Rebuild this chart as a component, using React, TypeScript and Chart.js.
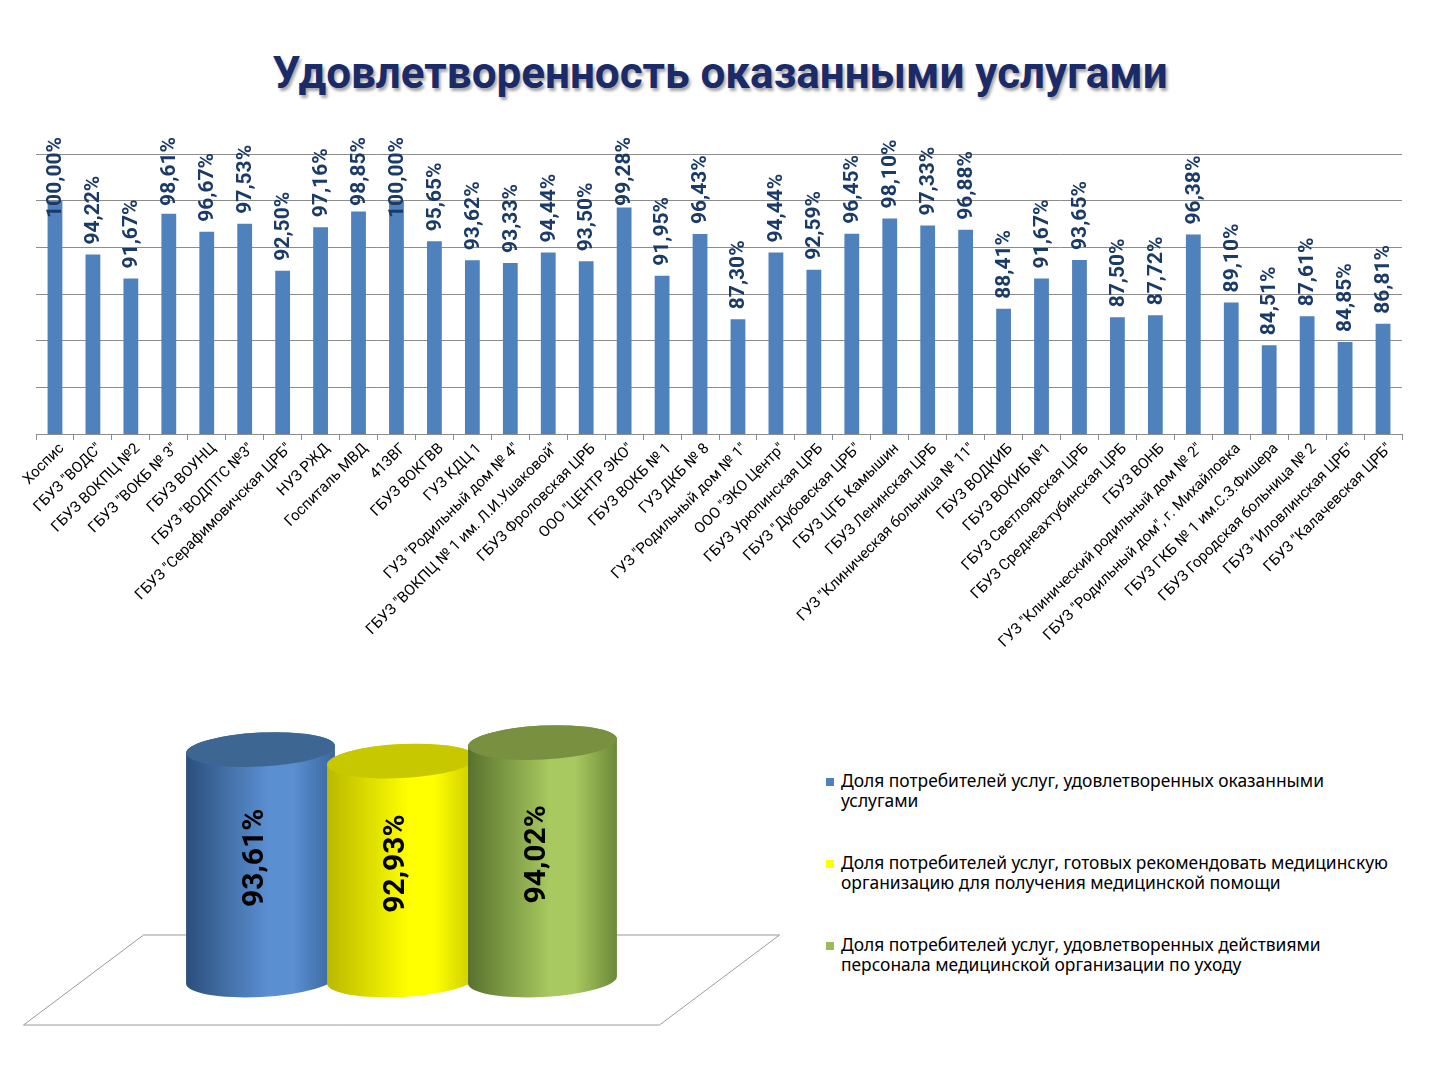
import React, { useEffect, useRef } from 'react';
import { Chart, Plugin, registerables } from 'chart.js';

Chart.register(...registerables);

// --- data ---
const organizations = [
  'Хоспис',
  'ГБУЗ "ВОДС"',
  'ГБУЗ ВОКПЦ №2',
  'ГБУЗ "ВОКБ № 3"',
  'ГБУЗ ВОУНЦ',
  'ГБУЗ "ВОДПТС №3"',
  'ГБУЗ "Серафимовичская ЦРБ"',
  'НУЗ РЖД',
  'Госпиталь МВД',
  '413ВГ',
  'ГБУЗ ВОКГВВ',
  'ГУЗ КДЦ 1',
  'ГУЗ "Родильный дом № 4"',
  'ГБУЗ "ВОКПЦ № 1 им. Л.И.Ушаковой"',
  'ГБУЗ Фроловская ЦРБ',
  'ООО "ЦЕНТР ЭКО"',
  'ГБУЗ ВОКБ № 1',
  'ГУЗ ДКБ № 8',
  'ГУЗ "Родильный дом № 1"',
  'ООО "ЭКО Центр"',
  'ГБУЗ Урюпинская ЦРБ',
  'ГБУЗ "Дубовская ЦРБ"',
  'ГБУЗ ЦГБ Камышин',
  'ГБУЗ Ленинская ЦРБ',
  'ГУЗ "Клиническая больница № 11"',
  'ГБУЗ ВОДКИБ',
  'ГБУЗ ВОКИБ №1',
  'ГБУЗ Светлоярская ЦРБ',
  'ГБУЗ Среднеахтубинская ЦРБ',
  'ГБУЗ ВОНБ',
  'ГУЗ "Клинический родильный дом № 2"',
  'ГБУЗ "Родильный дом", г. Михайловка',
  'ГБУЗ ГКБ № 1 им.С.З.Фишера',
  'ГБУЗ Городская больница № 2',
  'ГБУЗ "Иловлинская ЦРБ"',
  'ГБУЗ "Калачевская ЦРБ"',
];

const satisfaction = [
  100.0, 94.22, 91.67, 98.61, 96.67, 97.53, 92.5, 97.16, 98.85, 100.0, 95.65, 93.62,
  93.33, 94.44, 93.5, 99.28, 91.95, 96.43, 87.3, 94.44, 92.59, 96.45, 98.1, 97.33,
  96.88, 88.41, 91.67, 93.65, 87.5, 87.72, 96.38, 89.1, 84.51, 87.61, 84.85, 86.81,
];

const satisfactionAxis = { min: 75, max: 105, step: 5 };

const summaryLabels = [
  ['Доля потребителей услуг, удовлетворенных оказанными', 'услугами'],
  ['Доля потребителей услуг, готовых рекомендовать медицинскую', 'организацию для получения медицинской помощи'],
  ['Доля потребителей услуг, удовлетворенных действиями', 'персонала медицинской организации по уходу'],
];
const summaryValues = [93.61, 92.93, 94.02];
const summaryAxis = { min: 80, max: 95 };

// colours
const legendColors = ['#4F81BD', '#FFFF00', '#9BBB59'];
const cylinderShades = [
  { left: '#2C4F7C', mid: '#5A8FD2', right: '#3A669B', top: '#3E6692' },
  { left: '#B9B900', mid: '#FFFF00', right: '#C8C800', top: '#C8C800' },
  { left: '#58722E', mid: '#A8C95F', right: '#6A8838', top: '#78903F' },
];

const fmt = (v: number) => v.toFixed(2).replace('.', ',') + '%';

const barLabels: Plugin<'bar'> = {
  id: 'barLabels',
  afterDatasetsDraw(chart) {
    const { ctx, chartArea } = chart;
    const meta = chart.getDatasetMeta(0);
    const values = chart.data.datasets[0].data as number[];
    ctx.save();
    ctx.font = 'bold 21px Roboto';
    ctx.fillStyle = '#1A3A68';
    ctx.textAlign = 'left';
    ctx.textBaseline = 'middle';
    meta.data.forEach((bar: any, i) => {
      const text = fmt(values[i]);
      const w = ctx.measureText(text).width;
      const start = Math.max(bar.y - 10, chartArea.top - 17 + w);
      ctx.save();
      ctx.translate(bar.x + 1, start);
      ctx.rotate(-Math.PI / 2);
      ctx.fillText(text, 0, 0);
      ctx.restore();
    });
    ctx.restore();
  },
};

const cylinders: Plugin<'bar'> = {
  id: 'cylinders',
  beforeDatasetsDraw(chart) {
    const { ctx, chartArea } = chart;
    const cx = (chartArea.left + chartArea.right) / 2;
    const base = chartArea.bottom;
    const half = 318;
    const depth = 45;
    const skew = 60;
    ctx.save();
    ctx.beginPath();
    ctx.moveTo(cx - half - skew, base + depth);
    ctx.lineTo(cx + half - skew, base + depth);
    ctx.lineTo(cx + half + skew, base - depth);
    ctx.lineTo(cx - half + skew, base - depth);
    ctx.closePath();
    ctx.fillStyle = '#ffffff';
    ctx.fill();
    ctx.strokeStyle = '#9a9a9a';
    ctx.lineWidth = 1;
    ctx.stroke();
    ctx.restore();
  },
  afterDatasetsDraw(chart) {
    const { ctx, chartArea } = chart;
    const meta = chart.getDatasetMeta(0);
    const values = chart.data.datasets[0].data as number[];
    const rot = -0.05;
    const ry = 17;
    meta.data.forEach((bar: any, i) => {
      const shade = cylinderShades[i];
      const rx = (bar.width * 1.057) / 2;
      const x = bar.x;
      const top = bar.y;
      const base = chartArea.bottom;

      const grad = ctx.createLinearGradient(x - rx, 0, x + rx, 0);
      grad.addColorStop(0, shade.left);
      grad.addColorStop(0.55, shade.mid);
      grad.addColorStop(0.72, shade.mid);
      grad.addColorStop(1, shade.right);

      ctx.save();
      ctx.beginPath();
      ctx.ellipse(x, base, rx, ry, rot, 0, Math.PI, false);
      ctx.ellipse(x, top, rx, ry, rot, Math.PI, Math.PI * 2, false);
      ctx.closePath();
      ctx.fillStyle = grad;
      ctx.fill();

      ctx.beginPath();
      ctx.ellipse(x, top, rx, ry, rot, 0, Math.PI * 2);
      ctx.fillStyle = shade.top;
      ctx.fill();

      ctx.font = 'bold 30px Roboto';
      ctx.fillStyle = '#000000';
      ctx.textAlign = 'center';
      ctx.textBaseline = 'middle';
      ctx.translate(x - 5, (top + base) / 2 - 7);
      ctx.rotate(-Math.PI / 2);
      ctx.fillText(fmt(values[i]), 0, 0);
      ctx.restore();
    });
  },
};

const SatisfactionBars: React.FC = () => {
  const ref = useRef<HTMLCanvasElement | null>(null);
  useEffect(() => {
    if (!ref.current) return;
    const chart = new Chart(ref.current, {
      type: 'bar',
      data: {
        labels: organizations,
        datasets: [
          {
            data: satisfaction,
            backgroundColor: '#4F81BD',
            barPercentage: 0.39,
            categoryPercentage: 1,
          },
        ],
      },
      options: {
        responsive: true,
        maintainAspectRatio: false,
        animation: false,
        layout: { padding: { left: 36, right: 38, top: 34, bottom: 0 } },
        plugins: { legend: { display: false }, tooltip: { enabled: false } },
        scales: {
          x: {
            offset: true,
            grid: { display: true, drawOnChartArea: false, tickLength: 6, color: '#8c8c8c', offset: true },
            border: { display: true, color: '#8c8c8c' },
            ticks: {
              autoSkip: false,
              minRotation: 45,
              maxRotation: 45,
              padding: 0,
              labelOffset: 7,
              color: '#000000',
              font: { family: 'Roboto', size: 15 },
            },
            afterFit: (s: any) => {
              s.height = 246;
            },
          },
          y: {
            min: satisfactionAxis.min,
            max: satisfactionAxis.max,
            ticks: { stepSize: satisfactionAxis.step, display: false },
            grid: { color: '#8c8c8c', drawTicks: false },
            border: { display: false },
            afterFit: (s: any) => {
              s.width = 0;
            },
          },
        },
      },
      plugins: [barLabels],
    });
    return () => chart.destroy();
  }, []);
  return (
    <div style={{ position: 'absolute', left: 0, top: 120, width: 1440, height: 560 }}>
      <canvas ref={ref} />
    </div>
  );
};

const SummaryCylinders: React.FC = () => {
  const ref = useRef<HTMLCanvasElement | null>(null);
  useEffect(() => {
    if (!ref.current) return;
    const chart = new Chart(ref.current, {
      type: 'bar',
      data: {
        labels: summaryLabels.map((l) => l.join(' ')),
        datasets: [
          {
            data: summaryValues,
            backgroundColor: 'rgba(0,0,0,0)',
            barPercentage: 1,
            categoryPercentage: 1,
          },
        ],
      },
      options: {
        responsive: true,
        maintainAspectRatio: false,
        animation: false,
        layout: { padding: { left: 190, right: 187, top: 26, bottom: 70 } },
        plugins: { legend: { display: false }, tooltip: { enabled: false } },
        scales: {
          x: { display: false },
          y: { display: false, min: summaryAxis.min, max: summaryAxis.max },
        },
      },
      plugins: [cylinders],
    });
    return () => chart.destroy();
  }, []);
  return (
    <div style={{ position: 'absolute', left: 0, top: 700, width: 800, height: 350 }}>
      <canvas ref={ref} />
    </div>
  );
};

const Legend: React.FC = () => (
  <div style={{ position: 'absolute', left: 826, top: 770, fontFamily: 'Noto Sans', fontSize: 17.4, lineHeight: '20px', color: '#000' }}>
    {summaryLabels.map((lines, i) => (
      <div key={i} style={{ position: 'relative', height: 82, paddingLeft: 15 }}>
        <span
          style={{
            position: 'absolute',
            left: 0,
            top: 8,
            width: 8,
            height: 8,
            background: legendColors[i],
          }}
        />
        {lines.map((t, j) => (
          <div key={j} style={{ whiteSpace: 'nowrap' }}>
            {t}
          </div>
        ))}
      </div>
    ))}
  </div>
);

const App: React.FC = () => (
  <div style={{ position: 'absolute', left: 0, top: 0, width: 1440, height: 1080, background: '#fff', overflow: 'hidden' }}>
    <div
      style={{
        position: 'absolute',
        left: 0,
        top: 47,
        width: 1440,
        textAlign: 'center',
        fontFamily: 'Roboto',
        fontWeight: 'bold',
        fontSize: 44,
        color: '#1B2A68',
        textShadow: '2px 3px 3px rgba(0,0,0,0.35)',
      }}
    >
      Удовлетворенность оказанными услугами
    </div>
    <SatisfactionBars />
    <SummaryCylinders />
    <Legend />
  </div>
);

export default App;
